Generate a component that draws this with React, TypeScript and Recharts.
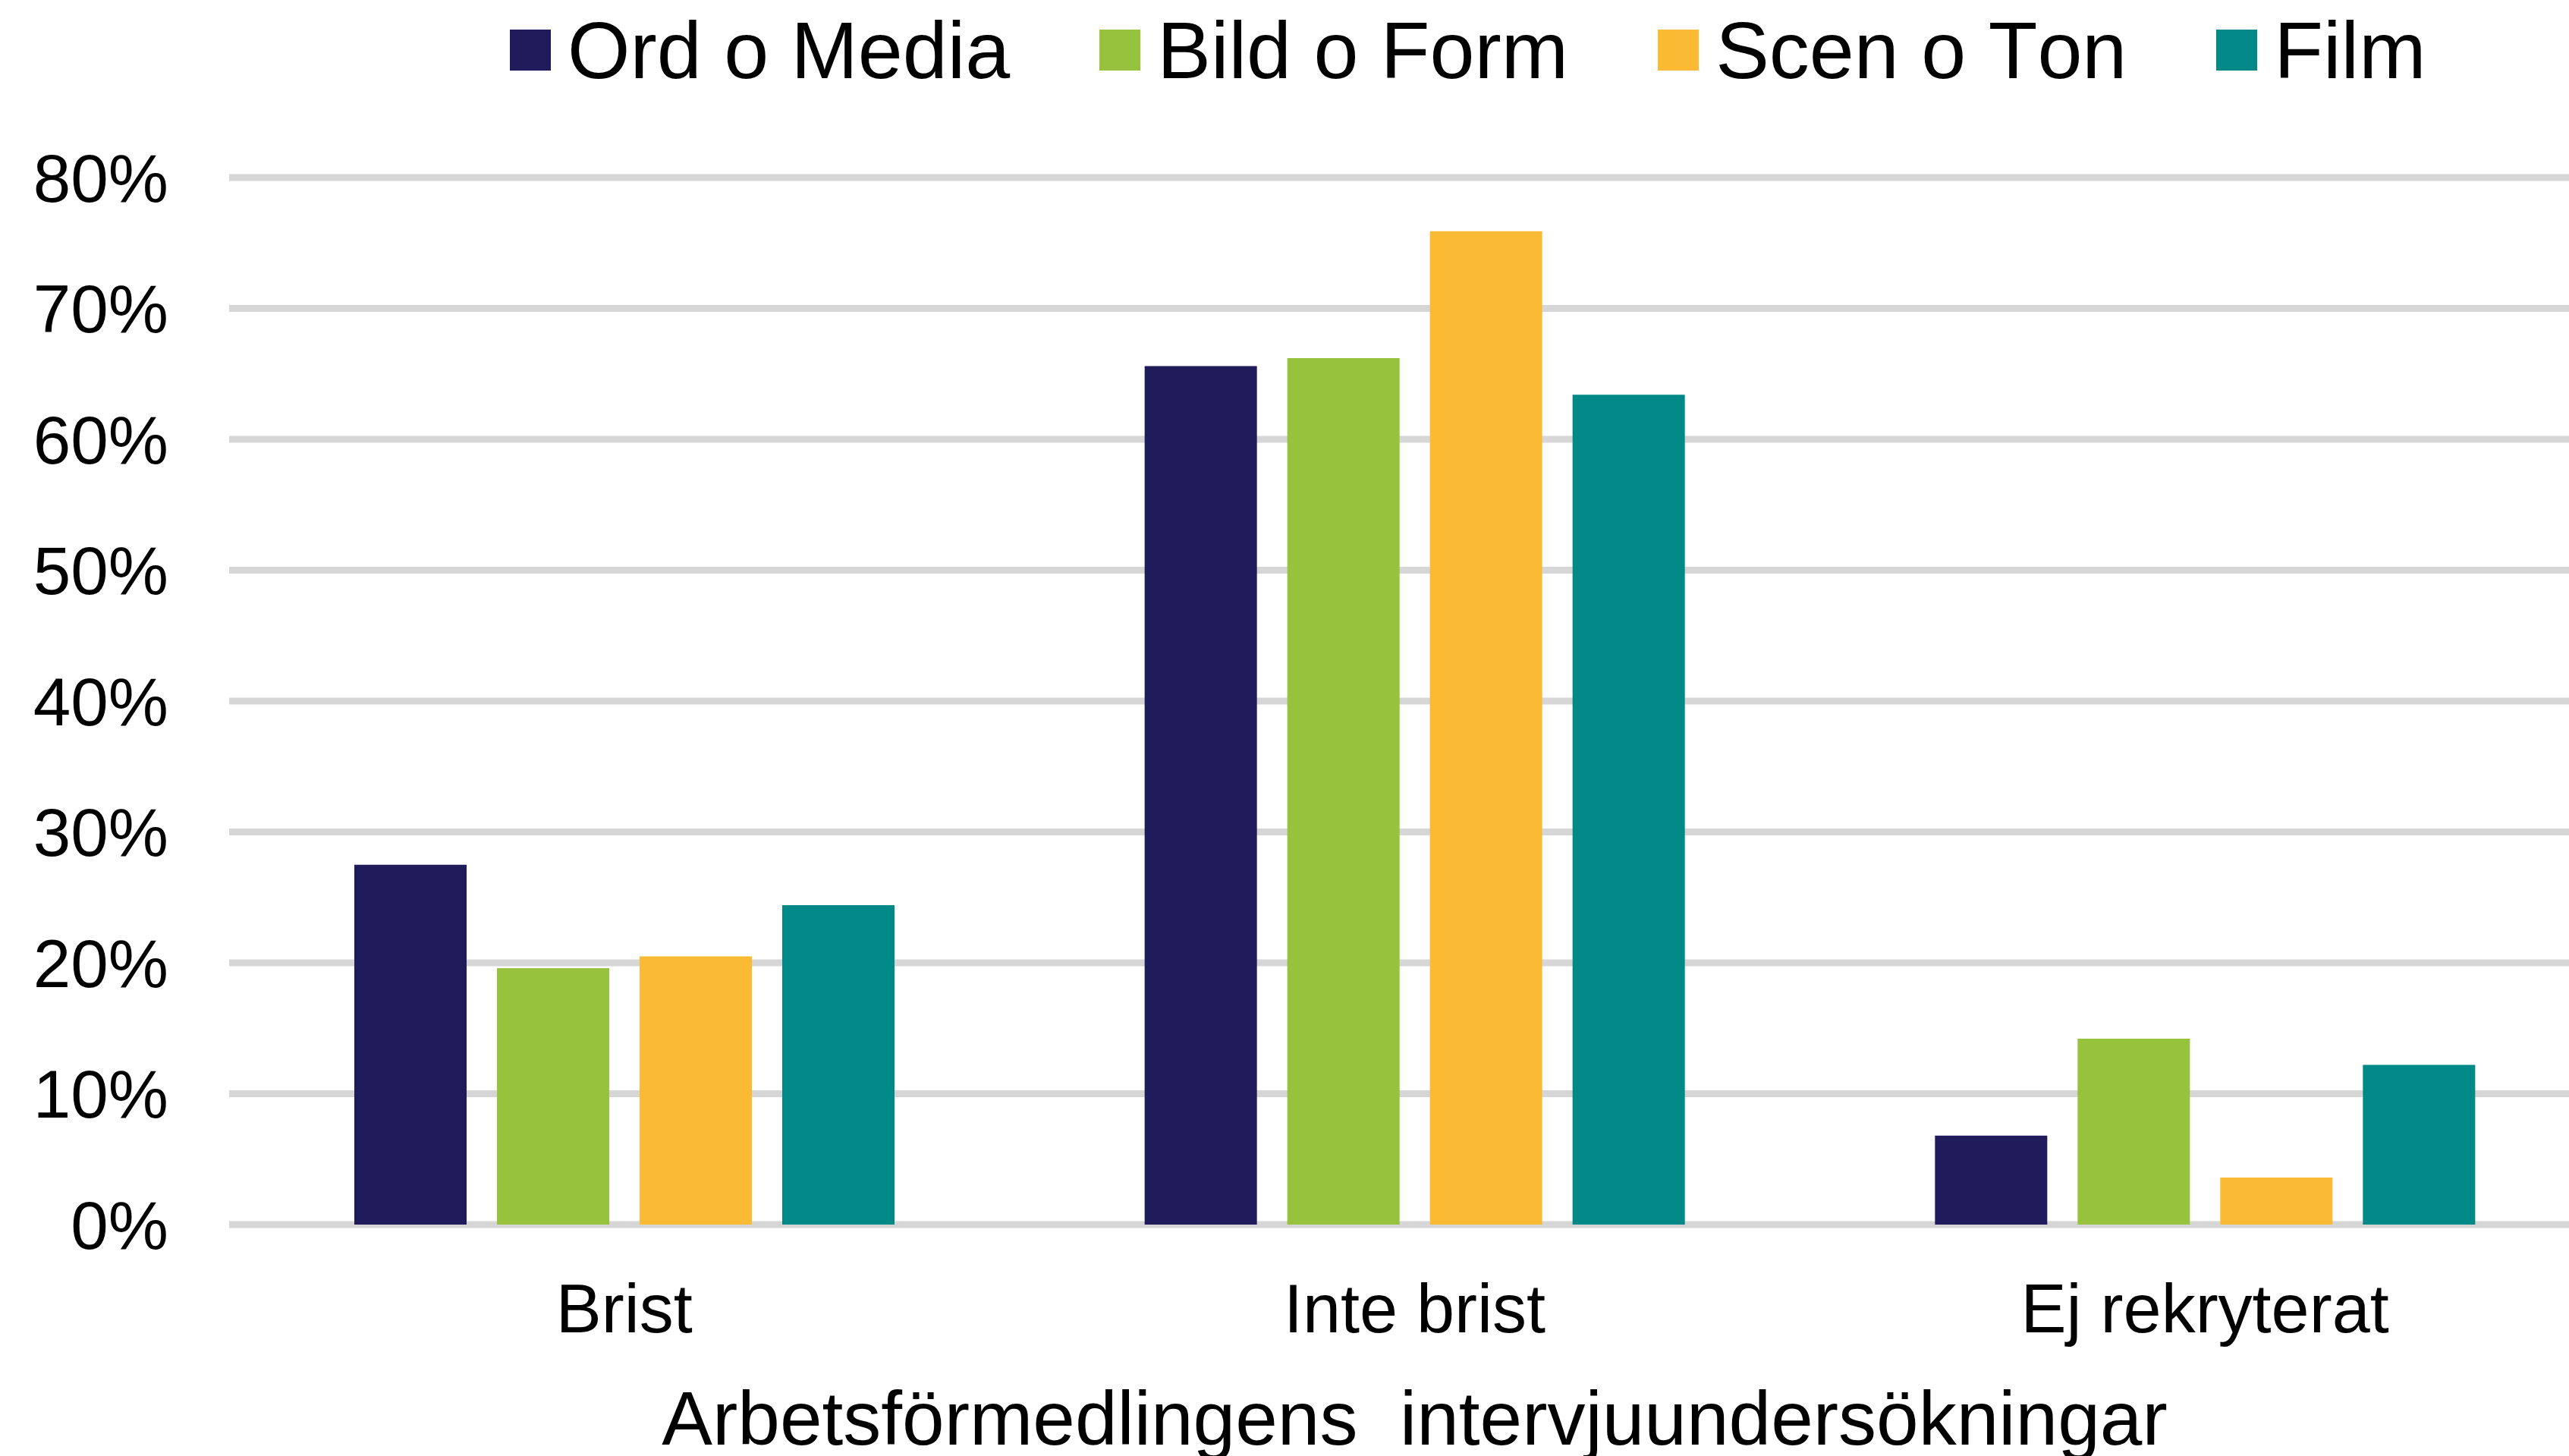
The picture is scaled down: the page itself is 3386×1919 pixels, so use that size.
import React from 'react';
import { BarChart, Bar, XAxis, YAxis, CartesianGrid, Legend } from 'recharts';

const categories = ['Brist', 'Inte brist', 'Ej rekryterat'];
const ordOMedia = [27.5, 65.6, 6.8];
const bildOForm = [19.6, 66.2, 14.2];
const scenOTon = [20.5, 75.9, 3.6];
const film = [24.4, 63.4, 12.2];
const yTicks = [0, 10, 20, 30, 40, 50, 60, 70, 80];
const seriesNames = ['Ord o Media', 'Bild o Form', 'Scen o Ton', 'Film'];
const seriesKeys = ['ord', 'bild', 'scen', 'film'];
const seriesColors = ['#201b5b', '#96c23e', '#fbba33', '#008986'];
const axisTitle = 'Arbetsförmedlingens\u00A0 intervjuundersökningar';

const data = categories.map((cat, i) => ({
  cat,
  ord: ordOMedia[i],
  bild: bildOForm[i],
  scen: scenOTon[i],
  film: film[i],
}));

const FONT = '"Liberation Sans", Arial, Helvetica, sans-serif';

const LegendContent = () => {
  return (
    <div
      style={{
        display: 'flex',
        alignItems: 'center',
        height: 131,
        paddingLeft: 672,
        fontFamily: FONT,
        fontSize: 106,
        color: '#000',
        lineHeight: 1,
        whiteSpace: 'nowrap',
        fontKerning: 'none',
      }}
    >
      {seriesNames.map((name, i) => (
        <div key={name} style={{ display: 'flex', alignItems: 'center', marginRight: 118 }}>
          <div style={{ width: 54, height: 54, background: seriesColors[i], marginRight: 22 }} />
          <span>{name}</span>
        </div>
      ))}
    </div>
  );
};

export default function App() {
  return (
    <div
      style={{
        position: 'fixed',
        left: 0,
        top: 0,
        width: 3386,
        height: 1919,
        overflow: 'hidden',
        background: '#fff',
      }}
    >
      <BarChart
        width={3427}
        height={1919}
        data={data}
        margin={{ top: 234, right: 0, bottom: 105, left: 0 }}
        barSize={148}
        barGap={40}
      >
        <CartesianGrid vertical={false} stroke="#d6d6d6" strokeWidth={9} />
        <XAxis
          dataKey="cat"
          axisLine={false}
          tickLine={false}
          tickSize={0}
          tickMargin={78}
          height={200}
          interval={0}
          tick={{ fontSize: 90, fill: '#000', fontFamily: FONT }}
          label={{
            value: axisTitle,
            position: 'bottom',
            offset: 19,
            fontSize: 100,
            fill: '#000',
            fontFamily: FONT,
          }}
        />
        <YAxis
          type="number"
          domain={[0, 80]}
          ticks={yTicks}
          tickFormatter={(v: number) => `${v}%`}
          axisLine={false}
          tickLine={false}
          tickSize={0}
          tickMargin={80}
          width={302}
          tick={{ fontSize: 89, fill: '#000', fontFamily: FONT }}
        />
        <Legend
          verticalAlign="middle"
          align="center"
          layout="horizontal"
          wrapperStyle={{ top: 0, left: 0, width: 3427, height: 131 }}
          content={<LegendContent />}
        />
        {seriesKeys.map((k, i) => (
          <Bar key={k} dataKey={k} name={seriesNames[i]} fill={seriesColors[i]} isAnimationActive={false} />
        ))}
      </BarChart>
    </div>
  );
}
